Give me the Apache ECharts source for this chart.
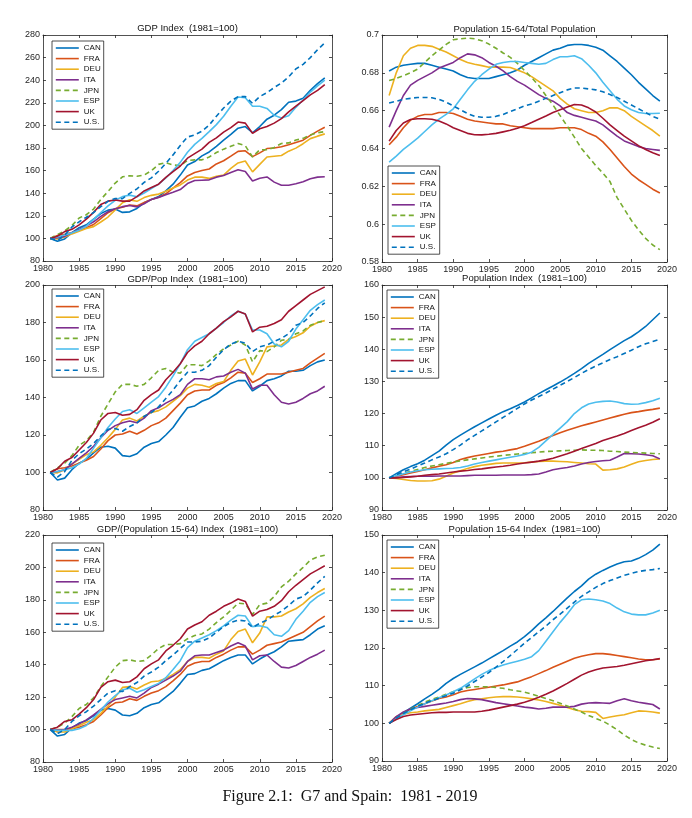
<!DOCTYPE html>
<html><head><meta charset="utf-8">
<script src="https://cdn.jsdelivr.net/npm/echarts@6/dist/echarts.min.js"></script>
<style>html,body{margin:0;padding:0;background:#fff}#c{width:692px;height:818px}</style>
</head><body><div id="c"></div>
<script>
const years = [1981,1982,1983,1984,1985,1986,1987,1988,1989,1990,1991,1992,1993,1994,1995,1996,1997,1998,1999,2000,2001,2002,2003,2004,2005,2006,2007,2008,2009,2010,2011,2012,2013,2014,2015,2016,2017,2018,2019];
const countries = ['CAN','FRA','DEU','ITA','JPN','ESP','UK','U.S.'];
const xTicks = {min:1980, max:2020, interval:5};

// Panel 1: GDP Index (1981=100)
const gdpCAN = [100,97.5,99.5,105,109.5,112,117,122,125,126, 123,123.5,126.5,131.5,134.5,137,142,148,156,165, 168,173,176.5,181.5,187,192,197.5,199,193.5,199, 205.5,209,214,220.5,221.5,224,231,237,242];
const gdpFRA = [100,102.5,103.7,105.3,107,109.4,112.3,117.5,122.7,126.3, 127.5,129.6,128.8,131.8,134.5,136.4,139.5,144.5,149.4,155.3, 158.4,160.1,161.4,165.9,168.7,172.8,177,177.5,172.4,175.7, 179.5,180,181.1,182.9,184.9,186.9,191.2,194.9,198.4];
const gdpDEU = [100,99.6,101.2,104,106.4,108.8,110.4,114.5,118.9,125.2, 131.6,134.1,132.8,136.1,138.1,139.2,141.7,144.6,147.3,151.6, 154.2,154.2,153.1,154.9,156,161.9,166.8,168.5,158.9,165.5, 172,172.7,173.4,177.2,179.9,183.8,188.3,190.5,192.5];
const gdpITA = [100,100.6,101.8,105.1,108,111.1,114.7,119.5,123.6,126.2, 128.1,129.1,127.9,130.7,134.5,136.3,138.7,140.9,143.2,148.5, 151.2,151.5,151.8,154.2,155.6,158.4,160.8,159.2,150.8,153.3, 154.4,149.8,147.1,147.1,148.3,150.2,152.8,154.2,154.6];
const gdpJPN = [100,103.4,106.6,111.4,118,121,126,134.5,141.5,149, 154.5,155.5,155,156,160,165.5,167,165,164.5,169, 169.5,169.5,172,176,179,181.5,184,182,172,178.5, 178.5,180.5,184,184.5,187,188.5,191.5,193.5,194.5];
const gdpESP = [100,101.2,103,104.9,107.3,110.8,116.9,122.9,128.8,133.7, 137,138.3,136.9,140.2,144.1,148,153.5,160.1,167.3,176.2, 183.2,188.5,194.5,200.7,208.1,216.9,225.1,224.5,217,217, 215,209,206.5,208.5,216,222.5,229.5,235,240];
const gdpUK  = [100,102,106,108,112,117,123,130,133,134, 133,133,137,142,145,148,154,159,164,171, 175,179,185,189,194,198,203,202,193,197, 199,202,206,212,217,222,227,231,236];
const gdpUS  = [100,98.2,102.7,110.1,114.7,118.7,122.9,128.1,132.8,135.3, 135.2,139.9,143.8,149.6,153.6,159.4,166.4,173.9,182.3,189.7, 191.6,194.9,200.3,208.1,215.4,221.5,225.5,225.5,219.5,225.5, 229,233.5,237.5,243,250,254,260,267,273];

// Panel 2: Population 15-64 / Total Population
const ratCAN = [0.681,0.683,0.684,0.6845,0.685,0.685,0.684,0.683,0.682,0.681, 0.679,0.6775,0.677,0.677,0.677,0.678,0.679,0.680,0.6815,0.684, 0.686,0.688,0.690,0.692,0.693,0.6945,0.695,0.695,0.6945,0.6935, 0.692,0.689,0.686,0.6825,0.679,0.675,0.6715,0.668,0.665];
const ratFRA = [0.642,0.646,0.651,0.655,0.657,0.658,0.658,0.659,0.659,0.6585, 0.657,0.6555,0.6545,0.654,0.6535,0.653,0.653,0.652,0.6515,0.651, 0.6505,0.6505,0.6505,0.6505,0.651,0.651,0.651,0.650,0.648,0.6465, 0.6435,0.6395,0.635,0.6305,0.6265,0.6235,0.621,0.6185,0.6165];
const ratDEU = [0.668,0.680,0.689,0.693,0.6945,0.6945,0.694,0.6925,0.691,0.689, 0.687,0.6855,0.6845,0.6838,0.683,0.683,0.683,0.6828,0.6815,0.680, 0.678,0.6755,0.673,0.6705,0.6665,0.6635,0.661,0.660,0.659,0.659, 0.660,0.6615,0.6615,0.660,0.657,0.6545,0.652,0.6495,0.6465];
const ratITA = [0.6513,0.660,0.668,0.6735,0.676,0.678,0.680,0.6825,0.684,0.6855, 0.688,0.690,0.6895,0.688,0.6855,0.6835,0.681,0.678,0.6755,0.6735, 0.671,0.6685,0.6665,0.665,0.6625,0.659,0.6575,0.6565,0.6555,0.6545, 0.6525,0.6495,0.6465,0.644,0.6425,0.641,0.640,0.6395,0.639];
const ratJPN = [0.6759,0.677,0.6785,0.680,0.682,0.6855,0.689,0.692,0.695,0.6975, 0.698,0.6984,0.698,0.697,0.6952,0.693,0.6905,0.6882,0.685,0.6812, 0.6775,0.6733,0.668,0.663,0.6574,0.6518,0.646,0.640,0.6355,0.631, 0.627,0.6225,0.614,0.608,0.602,0.597,0.5925,0.589,0.5865];
const ratESP = [0.6328,0.636,0.6395,0.6425,0.6455,0.649,0.6525,0.6555,0.658,0.661, 0.666,0.671,0.6755,0.679,0.682,0.6845,0.6855,0.686,0.686,0.6855, 0.685,0.6845,0.685,0.687,0.6885,0.6885,0.689,0.6875,0.684,0.680, 0.675,0.6705,0.666,0.6625,0.6605,0.659,0.6585,0.6585,0.6586];
const ratUK  = [0.6439,0.6495,0.6535,0.6553,0.6557,0.6557,0.6555,0.6545,0.653,0.651, 0.6495,0.648,0.6473,0.6472,0.6475,0.648,0.6488,0.6496,0.6507,0.652, 0.6537,0.6555,0.6572,0.659,0.6605,0.662,0.6633,0.663,0.6615,0.6593, 0.656,0.6525,0.6495,0.6465,0.644,0.6415,0.6395,0.6378,0.6363];
const ratUS  = [0.6641,0.665,0.666,0.6665,0.667,0.667,0.6668,0.666,0.6645,0.6625, 0.6605,0.6585,0.657,0.6565,0.6565,0.657,0.658,0.6595,0.661,0.6625, 0.6635,0.665,0.6665,0.668,0.6695,0.671,0.672,0.672,0.6715,0.671, 0.670,0.6685,0.667,0.665,0.663,0.661,0.659,0.657,0.6555];

// Panel 3: GDP/Pop Index (1981=100)
const gpcCAN = [100,96,97,101.5,105,107,110.5,113.5,114,113, 109,108.5,110,113.5,115.5,116.5,120,124,129.5,134.5, 135.5,138,139.5,142,145,147.5,149,149,143.5,146, 149,150,151.5,154,154,154.5,157,159,160];
const gpcFRA = [100,102,102.5,103.5,105,106.5,108.5,112.5,117,120, 120.5,122,120.5,122.5,125,126.5,129,133,137,141.5, 143.5,144,144,146.5,148,150.5,153.5,153,148,150, 152.5,152.5,152.5,153.5,154.5,155.5,158.5,161,163.5];
const gpcDEU = [100,99.8,101.5,104.5,107,109.5,111,114.5,118.5,123, 128,129,127.5,130,132,133,135,138,141,145, 147,146.5,145.5,147.5,148.5,154.5,159.5,160.5,152,159, 167,167.5,168,171,172.5,174.5,178,180,181];
const gpcITA = [100,100.5,101.5,104.5,107.5,110.5,114,118.5,122.5,125, 126.5,127.5,126.5,129,133,134.5,137,139,141.5,147, 150,150,149.5,151,151.5,153.5,155,153,144.5,146.5, 146.5,141.5,137.5,136.5,137.5,139.5,142,143.5,146];
const gpcJPN = [100,102.5,105,109,114.5,117,121.5,130,136.5,143, 147,147,146,147,150.5,154.5,155.5,153.5,153,157.5, 157.5,157,159.5,163,166,168,170,168,159,165, 164.5,167,170.5,171,174,175.5,178.5,180,181];
const gpcESP = [100,100.5,101.5,102.5,104.5,107.5,113,118.5,124,128.5, 132.5,133.5,131.5,134.5,137.5,140.5,145.5,151.5,158,165.5, 170,172,174,177,180,183.5,186,184.5,176,176, 174,168.5,167,170,176.5,181.5,186.5,189.5,192];
const gpcUK  = [100,102,106,108,112,116,121,128,131.5,132, 130.5,131,133.5,138.5,141.5,144,149.5,153.5,158,164, 167.5,170,174,177,180.5,183,186,184.5,175,177.5, 178,179.5,181.5,186,189,192,195,197,199];
const gpcUS  = [100,97.5,100.5,106.5,110,112.5,115.5,119.5,123,123.5, 122,124.5,126.5,130,132,135,139.5,144,149,153.5, 153.5,154.5,157,161.5,165.5,168.5,170,169,164.5,167, 168,170,171.5,174,178.5,180,183.5,187.5,190.5];

// Panel 4: Population Index (1981=100)
const popCAN = [100,101.3,102.5,103.5,104.4,105.5,106.9,108.3,110.2,111.9, 113.3,114.6,115.9,117.1,118.3,119.5,120.6,121.5,122.5,123.6, 124.9,126.2,127.4,128.6,129.8,131.1,132.5,134,135.6,137, 138.4,139.9,141.3,142.7,143.9,145.4,147.1,149.2,151.3];
const popFRA = [100,100.5,101,101.5,102,102.5,103.1,103.6,104.1,104.8, 105.7,106.3,106.8,107.2,107.6,108,108.3,108.7,109.1,109.8, 110.6,111.4,112.3,113.2,114,114.8,115.5,116.2,116.8,117.4, 118,118.6,119.2,119.8,120.3,120.6,121,121.3,121.7];
const popDEU = [100,99.8,99.5,99.2,99,99,99.1,99.6,100.5,101.5, 102.2,102.9,103.5,103.9,104.2,104.5,104.6,104.6,104.6,104.7, 104.9,105.1,105.2,105.2,105.1,105,104.8,104.6,104.4,104.3, 102.4,102.5,102.8,103.4,104.2,105,105.4,105.7,105.9];
const popITA = [100,100.1,100.3,100.4,100.5,100.5,100.5,100.6,100.6,100.6, 100.6,100.7,100.8,100.8,100.8,100.8,100.9,100.9,100.9,100.9, 101,101.2,101.8,102.5,102.9,103.2,103.7,104.3,104.8,105.1, 105.3,105.5,106.5,107.6,107.5,107.4,107.2,106.9,105.9];
const popJPN = [100,100.7,101.4,102,102.6,103.2,103.7,104.1,104.5,104.9, 105.3,105.6,105.9,106.2,106.5,106.7,107,107.2,107.4,107.6, 107.8,108,108.2,108.3,108.4,108.5,108.6,108.7,108.6,108.6, 108.5,108.3,108.2,108,107.9,107.8,107.7,107.6,107.5];
const popESP = [100,100.7,101.3,101.8,102.2,102.5,102.7,102.8,102.9,103, 103.2,103.7,104.3,104.8,105.2,105.6,106,106.4,106.8,107.3, 108,109.5,111.5,113.5,115.5,117.5,120,121.8,123,123.5, 123.8,123.9,123.6,123.1,122.9,123,123.4,124,124.8];
const popUK  = [100,100,100.1,100.3,100.5,100.8,101,101.2,101.5,101.8, 102.1,102.3,102.6,102.8,103.1,103.4,103.6,103.9,104.3,104.6, 104.9,105.2,105.6,106.1,106.8,107.5,108.3,109.1,109.9,110.7, 111.6,112.3,113,113.8,114.7,115.6,116.4,117.3,118.4];
const popUS  = [100,101,101.9,102.7,103.7,104.6,105.6,106.5,107.5,108.8, 110.2,111.8,113.2,114.6,116,117.4,118.8,120.2,121.6,123, 124.2,125.3,126.4,127.6,128.8,130,131.2,132.5,133.7,134.8, 135.8,136.8,137.7,138.7,139.7,140.8,141.7,142.4,143.1];

// Panel 5: GDP/(Population 15-64) Index (1981=100)
const gpwCAN = [100,96,97,101,104,105.5,108.5,112,113,112, 109,108.5,110,113.5,115.5,116.5,120,123.5,128.5,134, 134.5,136.5,137.5,140,142.5,144.5,146,146,140.5,143.5, 146,148,151,154.5,155,155.5,158.5,162,164];
const gpwFRA = [100,100,100,100.5,101.5,103,105,109,113.5,116.5, 117,119,118,120.5,122.5,124,126.5,130,134,139, 141,142,142,144.5,146.5,149,151,151,146.5,149, 152,153,154,156,158,160,163.5,167,170];
const gpwDEU = [100,98.5,98.5,100.5,102.5,104.5,106,110,114.5,120, 126,126.5,125,127.5,129.5,130,131.5,134,137,142, 144.5,144.5,144,146.5,148.5,155.5,160.5,162,153.5,159.5, 169.5,169.5,170,172.5,174.5,177.5,181.5,184.5,187];
const gpwITA = [100,99.5,100,101.5,103.5,106,109,112.5,116,118.5, 119.5,120.5,119.5,122.5,126,128,130.5,133,136,142, 145.5,146,146,147.5,149,151.5,153.5,151.5,143,145.5, 146,142,138.5,138,139.5,142,144.5,146.5,149];
const gpwJPN = [100,101.5,104,108,113,115.5,119.5,126.5,132.5,138.5, 142.5,143,142,142.5,146,150,152.5,152.5,153,156, 158,159,162,166,169.5,173.5,178,177.5,171,177, 178,182,188,191.5,196,200,204.5,206.5,207.5];
const gpwESP = [100,99.5,99.5,99.5,100.5,102.5,107,112,117,121, 124.5,125.5,123,124.5,126.5,128.5,132,137,142.5,150.5, 154.5,156.5,158.5,161,164,167.5,170.5,170,163.5,164, 163,158.5,157.5,161,168,173,178.5,182,184.5];
const gpwUK  = [100,101.5,105,106,109.5,113.5,118.5,126,129.5,130.5, 129,129.5,132.5,137.5,140.5,143,148.5,152,156,162, 164.5,166.5,170.5,173,176,178,180.5,179,170,173, 174,176,179.5,185,189,192.5,196,198.5,201];
const gpwUS  = [100,97.5,100,105,108.5,111,114.5,118.5,122.5,124, 123.5,126.5,129,133,135.5,138.5,142.5,146,150,154, 154,154.5,156.5,160,163.5,166,167.5,167,163,165.5, 167.5,170.5,173,176.5,180.5,182,186,190.5,194.5];

// Panel 6: Population 15-64 Index (1981=100)
const wapCAN = [100,101.5,102.8,104,105.2,106.5,107.7,109,110.6,111.9, 113,114,115,116,117.1,118.2,119.3,120.5,121.6,123, 124.6,126.4,128,129.7,131.5,133.3,135,136.5,138.3,139.6, 140.6,141.5,142.3,142.9,143.1,143.8,144.8,146,147.6];
const wapFRA = [100,101.5,102.7,103.8,104.5,105.2,105.9,106.6,107,107.6, 108.3,108.7,109,109.3,109.6,109.9,110.2,110.6,111,111.7, 112.4,113.2,114,114.9,115.7,116.5,117.3,117.8,118.2,118.5, 118.5,118.3,118,117.7,117.4,117.1,116.9,116.9,117.1];
const wapDEU = [100,101.8,102.4,102.8,103,103.3,103.5,103.7,104.2,104.7, 105.2,105.8,106.3,106.5,106.8,107,107.1,107.1,107,106.8, 106.5,106.2,105.8,105.3,104.8,104.2,103.6,103.2,103.1,102.9, 101.3,101.7,102,102.3,102.8,103.3,103.2,103,102.7];
const wapITA = [100,101.8,103,103.8,104.2,104.5,104.8,105.1,105.4,105.8, 106.3,106.6,106.5,106.3,105.9,105.5,105.2,104.9,104.6,104.3, 104.1,103.8,104,104.3,104.3,104.3,104.5,105.1,105.4,105.5, 105.4,105.3,106,106.5,106,105.6,105.3,105,103.8];
const wapJPN = [100,101.3,102.6,103.7,104.7,105.6,106.4,107,107.7,108.4, 109,109.5,109.7,109.7,109.7,109.5,109.3,108.9,108.6,108.3, 107.8,107.2,106.6,106,105.3,104.6,103.8,103,102.1,101.3, 100.6,99.5,98.3,96.9,95.7,94.8,94.2,93.7,93.3];
const wapESP = [100,101.2,102.3,103.3,104.3,105.2,106,106.8,107.5,108.4, 109.3,110.5,111.8,113,114,114.8,115.5,116,116.5,117, 117.7,119.3,121.8,124.3,126.8,129,131.5,132.8,133,132.8, 132.5,131.8,130.6,129.6,129,128.8,128.8,129.3,130];
const wapUK  = [100,101,101.8,102.2,102.4,102.6,102.8,102.9,102.9,103, 103,103,103,103.2,103.5,103.9,104.3,104.7,105.1,105.6, 106.2,106.9,107.7,108.6,109.6,110.6,111.7,112.8,113.6,114.2, 114.7,114.9,115.1,115.4,115.8,116.2,116.6,116.9,117.2];
const wapUS  = [100,101.4,102.6,103.6,104.5,105.3,106,106.7,107.3,108, 108.9,109.9,111.1,112.3,113.5,114.9,116.4,118,119.6,121.3, 122.8,124.3,125.8,127.5,129,130.6,132.2,133.7,134.9,136.1, 137.1,137.9,138.6,139.3,139.8,140.3,140.6,140.8,141.1];

const panelTitles = ['GDP Index  (1981=100)','Population 15-64/Total Population','GDP/Pop Index  (1981=100)','Population Index  (1981=100)','GDP/(Population 15-64) Index  (1981=100)','Population 15-64 Index  (1981=100)'];
const panelSeries = [
  [gdpCAN,gdpFRA,gdpDEU,gdpITA,gdpJPN,gdpESP,gdpUK,gdpUS],
  [ratCAN,ratFRA,ratDEU,ratITA,ratJPN,ratESP,ratUK,ratUS],
  [gpcCAN,gpcFRA,gpcDEU,gpcITA,gpcJPN,gpcESP,gpcUK,gpcUS],
  [popCAN,popFRA,popDEU,popITA,popJPN,popESP,popUK,popUS],
  [gpwCAN,gpwFRA,gpwDEU,gpwITA,gpwJPN,gpwESP,gpwUK,gpwUS],
  [wapCAN,wapFRA,wapDEU,wapITA,wapJPN,wapESP,wapUK,wapUS]
];
const yScales = [
  {min:80,max:280,interval:20},
  {min:0.58,max:0.7,interval:0.02},
  {min:80,max:200,interval:20},
  {min:90,max:160,interval:10},
  {min:80,max:220,interval:20},
  {min:90,max:150,interval:10}
];

// layout (pixels)
const layout = [
  {left:43, top:35, width:289, height:226, titleY:28, lgL:52, lgT:41},
  {left:382,top:35, width:285, height:227, titleY:29, lgL:388,lgT:166},
  {left:43, top:285,width:289, height:225, titleY:279,lgL:52, lgT:289},
  {left:382,top:285,width:285, height:225, titleY:278,lgL:387,lgT:290},
  {left:43, top:535,width:289, height:227, titleY:529,lgL:52, lgT:543},
  {left:382,top:535,width:285, height:226, titleY:529,lgL:387,lgT:540}
];
const colors = ['#0072BD','#D95319','#EDB120','#7E2F8E','#77AC30','#4DBEEE','#A2142F','#0072BD'];
const dashed = [false,false,false,false,true,false,false,true];
const FONT = 'Liberation Sans, Arial, sans-serif';
const axisCol = '#262626';

const grid=[], xAxis=[], yAxis=[], series=[], legend=[], graphic=[];
layout.forEach((L,i)=>{
  grid.push({left:L.left, top:L.top, width:L.width, height:L.height, containLabel:false});
  const common = {type:'value', gridIndex:i, axisLine:{show:true,onZero:false,lineStyle:{color:axisCol,width:0.8}},
    axisTick:{show:true,inside:true,length:3,lineStyle:{color:axisCol,width:0.8}}, splitLine:{show:false}};
  xAxis.push(Object.assign({}, common, {position:'bottom', min:xTicks.min, max:xTicks.max, interval:xTicks.interval,
    axisLabel:{show:true, margin:3, fontSize:9, fontFamily:FONT, color:axisCol, formatter:v=>String(v)}}));
  xAxis.push(Object.assign({}, common, {position:'top', min:xTicks.min, max:xTicks.max, interval:xTicks.interval, axisLabel:{show:false}}));
  const ys = yScales[i];
  yAxis.push(Object.assign({}, common, {position:'left', min:ys.min, max:ys.max, interval:ys.interval,
    axisLabel:{show:true, margin:3, fontSize:9, fontFamily:FONT, color:axisCol, formatter:v=>String(parseFloat(Number(v).toFixed(2)))}}));
  yAxis.push(Object.assign({}, common, {position:'right', min:ys.min, max:ys.max, interval:ys.interval, axisLabel:{show:false}}));
  panelSeries[i].forEach((arr,k)=>{
    series.push({type:'line', name:countries[k], xAxisIndex:2*i, yAxisIndex:2*i, symbol:'none', showSymbol:false, smooth:false,
      lineStyle:{color:colors[k], width:1.6, type: dashed[k]?[5,3.5]:'solid'}, itemStyle:{color:colors[k]},
      data: years.map((y,j)=>[y,arr[j]]), animation:false, silent:true});
  });
  legend.push({data:countries, orient:'vertical', left:L.lgL, top:L.lgT, itemWidth:23, itemHeight:8, itemGap:2.6,
    padding:[3,3,3,3], borderColor:'#222', borderWidth:0.8, backgroundColor:'#fff',
    itemStyle:{opacity:0}, lineStyle:{width:1.6},
    textStyle:{fontSize:8, fontFamily:FONT, color:'#111', lineHeight:8}, selectedMode:false});
  graphic.push({type:'text', x:L.left+L.width/2, y:L.titleY, style:{text:panelTitles[i], font:'9.5px '+FONT, fill:'#111', textAlign:'center', textVerticalAlign:'middle'}});
});
graphic.push({type:'text', x:350, y:797, style:{text:'Figure 2.1:  G7 and Spain:  1981 - 2019', font:'16px "Liberation Serif", serif', fill:'#111', textAlign:'center', textVerticalAlign:'middle'}});

const chart = echarts.init(document.getElementById('c'), null, {renderer:'canvas'});
chart.setOption({backgroundColor:'#fff', animation:false, grid, xAxis, yAxis, series, legend, graphic});
</script></body></html>
